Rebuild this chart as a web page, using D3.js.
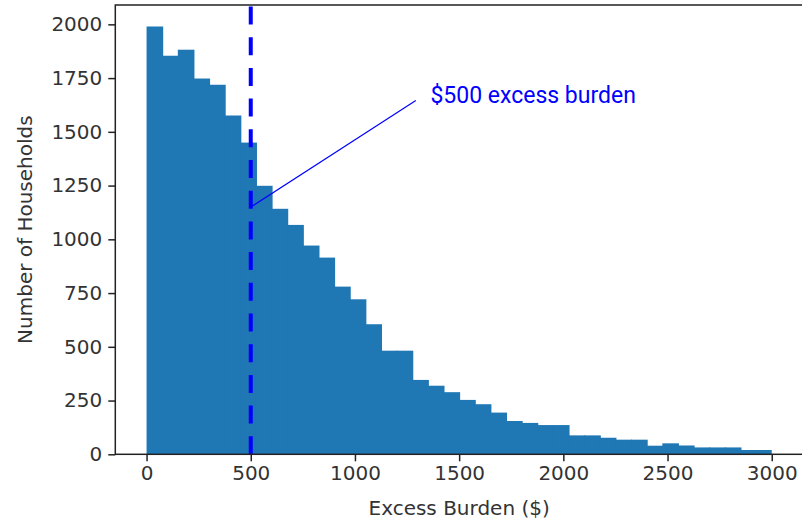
<!DOCTYPE html>
<html>
<head>
<meta charset="utf-8">
<script src="https://cdn.jsdelivr.net/npm/d3@7"></script>
<style>
  body { margin: 0; background: #fff; }
  svg { display: block; }
</style>
</head>
<body>
<svg width="802" height="521"></svg>
<script>
// histogram: 40 bins of $75 from 0 to 3000
var binStart = 0;
var binWidth = 75;
var counts = [1990, 1854, 1882, 1748, 1719, 1576, 1450, 1249, 1142, 1067,
              971, 915, 780, 721, 605, 482, 482, 346, 319, 289,
              253, 233, 194, 155, 146, 136, 136, 88, 88, 77,
              68, 68, 40, 51, 41, 32, 32, 32, 20, 20];
var xTicks = [0, 500, 1000, 1500, 2000, 2500, 3000];
var yTicks = [0, 250, 500, 750, 1000, 1250, 1500, 1750, 2000];
var markerX = 500;
var annoPoint = [500, 1150];
var annoLineEnd = [1292, 1646];
var annoText = [1362, 1634];
var annoLabel = '$500 excess burden';

var svg = d3.select('svg');

var plotL = 115.3, plotR = 803, plotT = 5, plotB = 454.3;

var scaleX = d3.scaleLinear().domain([-150, 3150]).range([plotL, plotR]);
var scaleY = d3.scaleLinear().domain([0, 2090]).range([plotB, plotT]);

var bins = counts.map(function (c, i) {
    return {x0: binStart + i * binWidth, x1: binStart + (i + 1) * binWidth, n: c};
});

// bars overlap by a pixel so no seams show between them
svg.selectAll('rect.bar')
    .data(bins)
    .enter()
    .append('rect')
    .attr('class', 'bar')
    .attr('x', function (d) { return scaleX(d.x0); })
    .attr('width', function (d, i) {
        return scaleX(d.x1) - scaleX(d.x0) + (i < bins.length - 1 ? 1 : 0);
    })
    .attr('y', function (d) { return scaleY(d.n); })
    .attr('height', function (d) { return scaleY(0) - scaleY(d.n); })
    .attr('fill', '#1f77b4');

// dashed line at $500
svg.append('line')
    .attr('x1', scaleX(markerX)).attr('x2', scaleX(markerX))
    .attr('y1', plotB).attr('y2', plotT)
    .attr('stroke', '#0000ff')
    .attr('stroke-width', 4)
    .attr('stroke-dasharray', '18,12.7');

// annotation
svg.append('line')
    .attr('x1', scaleX(annoPoint[0])).attr('y1', scaleY(annoPoint[1]))
    .attr('x2', scaleX(annoLineEnd[0])).attr('y2', scaleY(annoLineEnd[1]))
    .attr('stroke', '#0000ff')
    .attr('stroke-width', 1.2);

svg.append('text')
    .attr('x', scaleX(annoText[0]))
    .attr('y', scaleY(annoText[1]))
    .attr('font-family', 'Roboto')
    .attr('font-size', 23)
    .attr('fill', '#0000ff')
    .text(annoLabel);

// axes
var xAxis = svg.append('g')
    .attr('transform', 'translate(0,' + plotB + ')')
    .call(d3.axisBottom(scaleX).tickValues(xTicks).tickFormat(d3.format('d'))
        .tickSize(7).tickPadding(5).tickSizeOuter(0));

var yAxis = svg.append('g')
    .attr('transform', 'translate(' + plotL + ',0)')
    .call(d3.axisLeft(scaleY).tickValues(yTicks).tickFormat(d3.format('d'))
        .tickSize(7).tickPadding(6).tickSizeOuter(0));

[xAxis, yAxis].forEach(function (a) {
    a.select('.domain').remove();
    a.selectAll('line').attr('stroke', '#222').attr('stroke-width', 1.5);
    a.selectAll('text')
        .attr('font-family', 'DejaVu Sans')
        .attr('font-size', 20)
        .attr('fill', '#333');
});

// frame
svg.append('rect')
    .attr('x', plotL).attr('y', plotT)
    .attr('width', plotR - plotL).attr('height', plotB - plotT)
    .attr('fill', 'none')
    .attr('stroke', '#222')
    .attr('stroke-width', 1.5);

svg.append('text')
    .attr('x', (plotL + plotR) / 2)
    .attr('y', 515)
    .attr('text-anchor', 'middle')
    .attr('font-family', 'DejaVu Sans')
    .attr('font-size', 20)
    .attr('fill', '#333')
    .text('Excess Burden ($)');

svg.append('text')
    .attr('transform', 'rotate(270)')
    .attr('x', -(plotT + plotB) / 2)
    .attr('y', 32)
    .attr('text-anchor', 'middle')
    .attr('font-family', 'DejaVu Sans')
    .attr('font-size', 20)
    .attr('fill', '#333')
    .text('Number of Households');
</script>
</body>
</html>
